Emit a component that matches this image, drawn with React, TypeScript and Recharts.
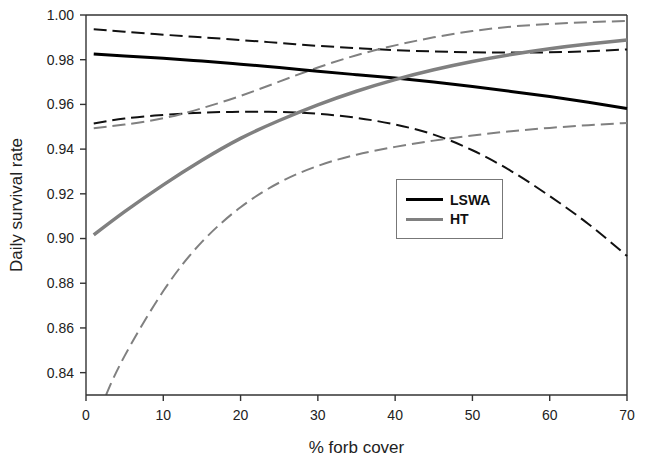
import React from "react";
import {
  LineChart,
  Line,
  XAxis,
  YAxis,
  Legend,
  ReferenceLine,
} from "recharts";

// % forb cover positions shared by most curves
const forbCover = [1, 5, 10, 15, 20, 25, 30, 35, 40, 45, 50, 55, 60, 65, 70];

// LSWA (black) estimate and 95% CI
const lswaMean = [0.9826, 0.9817, 0.9806, 0.9794, 0.978, 0.9765, 0.9748, 0.9733, 0.9718, 0.97, 0.968, 0.9658, 0.9635, 0.961, 0.9582];
const lswaUpper = [0.9936, 0.9925, 0.9912, 0.99, 0.9888, 0.9875, 0.9862, 0.9852, 0.9843, 0.9837, 0.9833, 0.9832, 0.9833, 0.9838, 0.9846];
const lswaLower = [0.9515, 0.9537, 0.9553, 0.9563, 0.9567, 0.9566, 0.9558, 0.954, 0.951, 0.9465, 0.9395, 0.9302, 0.919, 0.9065, 0.8922];

// HT (gray) estimate and 95% CI
const htMean = [0.9016, 0.912, 0.924, 0.935, 0.9448, 0.9528, 0.9598, 0.9659, 0.9711, 0.9755, 0.9792, 0.9823, 0.9849, 0.987, 0.9888];
const htUpper = [0.9493, 0.951, 0.9538, 0.9583, 0.9638, 0.9702, 0.9765, 0.982, 0.9864, 0.99, 0.9928, 0.9948, 0.996, 0.9968, 0.9973];
const htLowerCover = [2.6, 5, 10, 15, 20, 25, 30, 35, 40, 45, 50, 55, 60, 65, 70];
const htLower = [0.83, 0.8475, 0.8765, 0.8985, 0.914, 0.925, 0.9325, 0.9375, 0.941, 0.9438, 0.9461, 0.948, 0.9495, 0.9507, 0.9517];

const xTicks = [0, 10, 20, 30, 40, 50, 60, 70];
const yTicks = [0.84, 0.86, 0.88, 0.9, 0.92, 0.94, 0.96, 0.98, 1.0];
const legendOrder = ["LSWA", "HT"];

const toPoints = (xs: number[], ys: number[]) =>
  xs.map((x, i) => ({ x, y: ys[i] }));

const FONT = "'Liberation Sans', Arial, sans-serif";
const AXIS = "#333";

const LegendBox = (props: any) => {
  const payload = props.payload || [];
  const items = legendOrder
    .map((name) => payload.find((p: any) => p.value === name))
    .filter(Boolean);
  return (
    <div
      style={{
        width: 105,
        height: 48,
        border: "1px solid #777",
        background: "#fff",
        boxSizing: "content-box",
        paddingTop: 10,
        fontFamily: FONT,
      }}
    >
      {items.map((item: any) => (
        <div
          key={item.value}
          style={{ display: "flex", alignItems: "center", height: 19.5 }}
        >
          <span
            style={{
              display: "inline-block",
              marginLeft: 9,
              width: 37,
              height: 3,
              background: item.color,
            }}
          />
          <span
            style={{
              marginLeft: 7,
              fontSize: 14,
              fontWeight: "bold",
              color: "#111",
            }}
          >
            {item.value}
          </span>
        </div>
      ))}
    </div>
  );
};

export default function App() {
  return (
    <div style={{ position: "absolute", left: 0, top: 0, background: "#fff" }}>
      <LineChart
        width={647}
        height={457}
        margin={{ top: 15, right: 20, bottom: 0, left: 0 }}
        style={{ fontFamily: FONT }}
      >
        <XAxis
          type="number"
          dataKey="x"
          domain={[0, 70]}
          ticks={xTicks}
          height={62}
          stroke={AXIS}
          strokeWidth={1.4}
          tickSize={6}
          tickMargin={9}
          tick={{ fontSize: 14, fill: "#222" }}
          label={{
            value: "% forb cover",
            position: "insideBottom",
            offset: 4,
            style: { fontSize: 17, fill: "#222" },
          }}
        />
        <YAxis
          type="number"
          dataKey="y"
          domain={[0.83, 1.0]}
          allowDataOverflow
          ticks={yTicks}
          width={86}
          stroke={AXIS}
          strokeWidth={1.4}
          tickSize={6}
          tickMargin={6}
          tickFormatter={(v: number) => v.toFixed(2)}
          tick={{ fontSize: 14, fill: "#222" }}
          label={{
            value: "Daily survival rate",
            angle: -90,
            position: "insideLeft",
            offset: 16,
            style: { fontSize: 17, fill: "#222", textAnchor: "middle" },
          }}
        />
        <ReferenceLine y={1.0} stroke={AXIS} strokeWidth={1.4} />
        <ReferenceLine x={70} stroke={AXIS} strokeWidth={1.4} />
        <Legend
          layout="vertical"
          align="center"
          verticalAlign="middle"
          wrapperStyle={{ left: 396, top: 179, width: 107 }}
          content={<LegendBox />}
        />
        <Line
          data={toPoints(forbCover, lswaUpper)}
          dataKey="y"
          name="LSWA upper"
          type="natural"
          stroke="#111"
          strokeWidth={2}
          strokeDasharray="13 6"
          dot={false}
          legendType="none"
          isAnimationActive={false}
        />
        <Line
          data={toPoints(forbCover, lswaLower)}
          dataKey="y"
          name="LSWA lower"
          type="natural"
          stroke="#111"
          strokeWidth={2}
          strokeDasharray="13 6"
          dot={false}
          legendType="none"
          isAnimationActive={false}
        />
        <Line
          data={toPoints(forbCover, htUpper)}
          dataKey="y"
          name="HT upper"
          type="natural"
          stroke="#808080"
          strokeWidth={2}
          strokeDasharray="13 6"
          dot={false}
          legendType="none"
          isAnimationActive={false}
        />
        <Line
          data={toPoints(htLowerCover, htLower)}
          dataKey="y"
          name="HT lower"
          type="natural"
          stroke="#808080"
          strokeWidth={2}
          strokeDasharray="13 6"
          dot={false}
          legendType="none"
          isAnimationActive={false}
        />
        <Line
          data={toPoints(forbCover, lswaMean)}
          dataKey="y"
          name="LSWA"
          type="natural"
          stroke="#000"
          strokeWidth={3}
          dot={false}
          isAnimationActive={false}
        />
        <Line
          data={toPoints(forbCover, htMean)}
          dataKey="y"
          name="HT"
          type="natural"
          stroke="#808080"
          strokeWidth={3.5}
          dot={false}
          isAnimationActive={false}
        />
      </LineChart>
    </div>
  );
}
